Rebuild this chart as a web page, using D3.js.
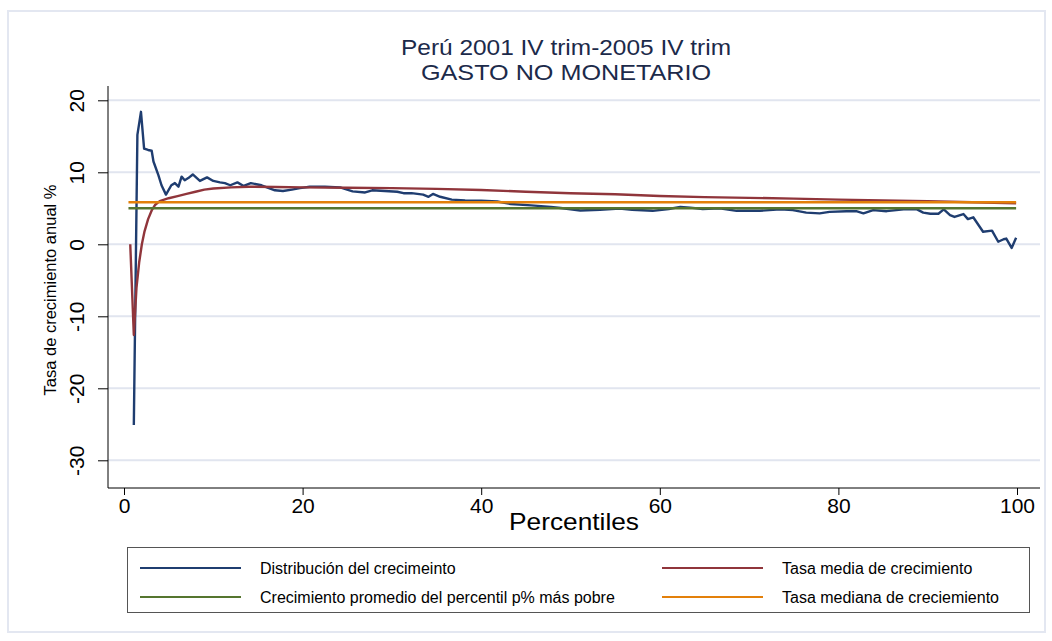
<!DOCTYPE html>
<html lang="es">
<head>
<meta charset="UTF-8">
<title>Perú 2001-2005 gasto no monetario</title>
<script src="https://cdn.jsdelivr.net/npm/d3@7"></script>
<style>
    body { margin: 0; background: #fff; }
    svg { display: block; font-family: "Liberation Sans", Arial, sans-serif; }
</style>
</head>
<body>
<svg id="chart" width="1052" height="641"></svg>
<script>
// growth incidence curve (percentile, % growth)
var distPct = [1.1, 1.5, 1.9, 2.25, 2.7, 3.1, 3.3, 3.85, 4.2, 4.7, 5.3, 5.7, 6.1, 6.45, 6.8, 7.2, 7.7, 8.5, 9.3, 10,
    10.75, 11.3, 11.9, 12.7, 13.4, 14.2, 15.4, 16.9, 17.8, 18.8, 19.7, 20.8, 22.5, 24.2, 25.6, 27, 27.8, 29.2, 30.6, 31.3,
    32.2, 33.5, 34.1, 34.6, 35.4, 36.7, 38.2, 40, 41.8, 43.3, 45.6, 47.8, 48.9, 51.1, 53.3, 55.5, 56.9, 59.2, 61, 62.3,
    63.4, 64.8, 66.7, 68.6, 71.2, 73.5, 74.9, 76.4, 77.9, 79, 80.9, 82, 82.8, 83.9, 85.4, 87.3, 88.8, 89.5, 90.3, 91.2,
    91.8, 92.5, 93, 94, 94.5, 95.1, 96.2, 97.2, 97.9, 98.5, 98.8, 99.4, 99.9];
var distVal = [-25.1, 15.2, 18.4, 13.3, 13.1, 13.0, 11.5, 9.6, 8.2, 6.9, 8.2, 8.5, 8.0, 9.4, 8.9, 9.2, 9.7, 8.8, 9.3, 8.8,
    8.6, 8.5, 8.2, 8.6, 8.1, 8.5, 8.2, 7.5, 7.4, 7.6, 7.8, 8.0, 8.0, 7.9, 7.35, 7.2, 7.5, 7.4, 7.3, 7.1,
    7.1, 6.9, 6.6, 7.0, 6.6, 6.2, 6.1, 6.05, 5.95, 5.6, 5.4, 5.2, 5.05, 4.7, 4.8, 4.95, 4.8, 4.65, 4.9, 5.2,
    5.1, 4.9, 5.0, 4.65, 4.65, 4.85, 4.75, 4.4, 4.3, 4.5, 4.6, 4.6, 4.3, 4.75, 4.6, 4.85, 4.85, 4.4, 4.25, 4.25,
    4.85, 4.05, 3.8, 4.2, 3.5, 3.75, 1.75, 1.9, 0.35, 0.7, 0.8, -0.5, 0.9];

// mean growth rate of the poorest p%
var meanPct = [0.7, 1.1, 1.4, 1.7, 2.0, 2.3, 2.7, 3.1, 3.5, 4, 4.5, 5, 6, 7, 8, 9, 10, 12, 14, 17,
    20, 25, 30, 35, 40, 45, 50, 55, 60, 65, 70, 75, 80, 85, 90, 95, 99.9];
var meanVal = [0, -12.6, -6, -2.5, 0, 1.8, 3.5, 4.7, 5.5, 6.0, 6.2, 6.4, 6.7, 7.0, 7.3, 7.6, 7.75, 7.9, 8.0, 7.95,
    7.9, 7.85, 7.8, 7.7, 7.55, 7.3, 7.1, 6.95, 6.7, 6.55, 6.45, 6.35, 6.2, 6.1, 6.0, 5.85, 5.7];

var flatPct = [0.5, 99.9];
var poorestVal = [5.0, 5.0];
var medianVal = [5.83, 5.83];

var xTicks = [0, 20, 40, 60, 80, 100];
var yTicks = [-30, -20, -10, 0, 10, 20];

var legendLabels = ["Distribución del crecimeinto", "Tasa media de crecimiento",
    "Crecimiento promedio del percentil p% más pobre", "Tasa mediana de creciemiento"];
var colors = ["#1f3d70", "#90353b", "#55752f", "#e3800a"];

var svg = d3.select("#chart");

var plotL = 108, plotR = 1040, plotT = 86, plotB = 488;
var x = d3.scaleLinear().domain([0, 100]).range([124, 1017]);
var y = d3.scaleLinear().domain([-30, 20]).range([460.3, 100.3]);

// outer frame
svg.append("rect").attr("x", 8).attr("y", 11).attr("width", 1037).attr("height", 621)
    .attr("fill", "none").attr("stroke", "#e3e7f1").attr("stroke-width", 2);

// gridlines
svg.append("g").selectAll("line").data(yTicks).enter().append("line")
    .attr("x1", plotL).attr("x2", plotR)
    .attr("y1", function(d) { return y(d); }).attr("y2", function(d) { return y(d); })
    .attr("stroke", "#e1e5ef").attr("stroke-width", 2);

// stata style labels: plain hyphen for negatives
var plain = function(d) { return String(d); };

// y axis
var yAxis = svg.append("g").attr("transform", "translate(" + plotL + ",0)")
    .call(d3.axisLeft(y).tickValues(yTicks).tickSize(10).tickFormat(plain));
yAxis.select(".domain").attr("d", "M0," + plotT + "V" + plotB).attr("stroke", "#000");
yAxis.selectAll(".tick line").attr("stroke", "#000");
yAxis.selectAll(".tick text")
    .attr("font-size", 21).attr("fill", "#000")
    .attr("transform", "rotate(-90)")
    .attr("x", 0).attr("y", -24).attr("dy", 0)
    .attr("text-anchor", "middle");

// x axis
var xAxis = svg.append("g").attr("transform", "translate(0," + plotB + ")")
    .call(d3.axisBottom(x).tickValues(xTicks).tickSize(7).tickFormat(plain));
xAxis.select(".domain").attr("d", "M" + plotL + ",0H" + plotR).attr("stroke", "#000");
xAxis.selectAll(".tick line").attr("stroke", "#000");
xAxis.selectAll(".tick text").attr("font-size", 21).attr("fill", "#000").attr("y", 10).attr("dy", "0.71em");

// titles
svg.append("text").attr("x", 566).attr("y", 55).attr("text-anchor", "middle")
    .attr("font-size", 22).attr("fill", "#1c2a4a")
    .attr("textLength", 330).attr("lengthAdjust", "spacingAndGlyphs")
    .text("Perú 2001 IV trim-2005 IV trim");
svg.append("text").attr("x", 566).attr("y", 80).attr("text-anchor", "middle")
    .attr("font-size", 22).attr("fill", "#1c2a4a")
    .attr("textLength", 290).attr("lengthAdjust", "spacingAndGlyphs")
    .text("GASTO NO MONETARIO");
svg.append("text").attr("x", 574).attr("y", 530).attr("text-anchor", "middle")
    .attr("font-size", 24).attr("fill", "#000")
    .attr("textLength", 130).attr("lengthAdjust", "spacingAndGlyphs")
    .text("Percentiles");
svg.append("text").attr("transform", "translate(56,290) rotate(-90)").attr("text-anchor", "middle")
    .attr("font-size", 16.5).attr("fill", "#000").text("Tasa de crecimiento anual %");

// series
var line = d3.line().x(function(d) { return x(d[0]); }).y(function(d) { return y(d[1]); });
var series = [
    d3.zip(distPct, distVal),
    d3.zip(meanPct, meanVal),
    d3.zip(flatPct, poorestVal),
    d3.zip(flatPct, medianVal)
];
svg.append("g").selectAll("path").data(series).enter().append("path")
    .attr("d", line)
    .attr("fill", "none")
    .attr("stroke", function(d, i) { return colors[i]; })
    .attr("stroke-width", 2.4)
    .attr("stroke-linejoin", "round");

// legend
var leg = svg.append("g");
leg.append("rect").attr("x", 127.5).attr("y", 547.5).attr("width", 902).attr("height", 65)
    .attr("fill", "#fff").attr("stroke", "#555").attr("stroke-width", 1);
var legPos = [[140, 568], [662, 568], [140, 597], [662, 597]];
legPos.forEach(function(p, i) {
    leg.append("line").attr("x1", p[0]).attr("x2", p[0] + 101).attr("y1", p[1]).attr("y2", p[1])
        .attr("stroke", colors[i]).attr("stroke-width", 2.2);
    leg.append("text").attr("x", p[0] + 120).attr("y", p[1]).attr("dy", "0.35em")
        .attr("font-size", 16).attr("fill", "#000").text(legendLabels[i]);
});
</script>
</body>
</html>
